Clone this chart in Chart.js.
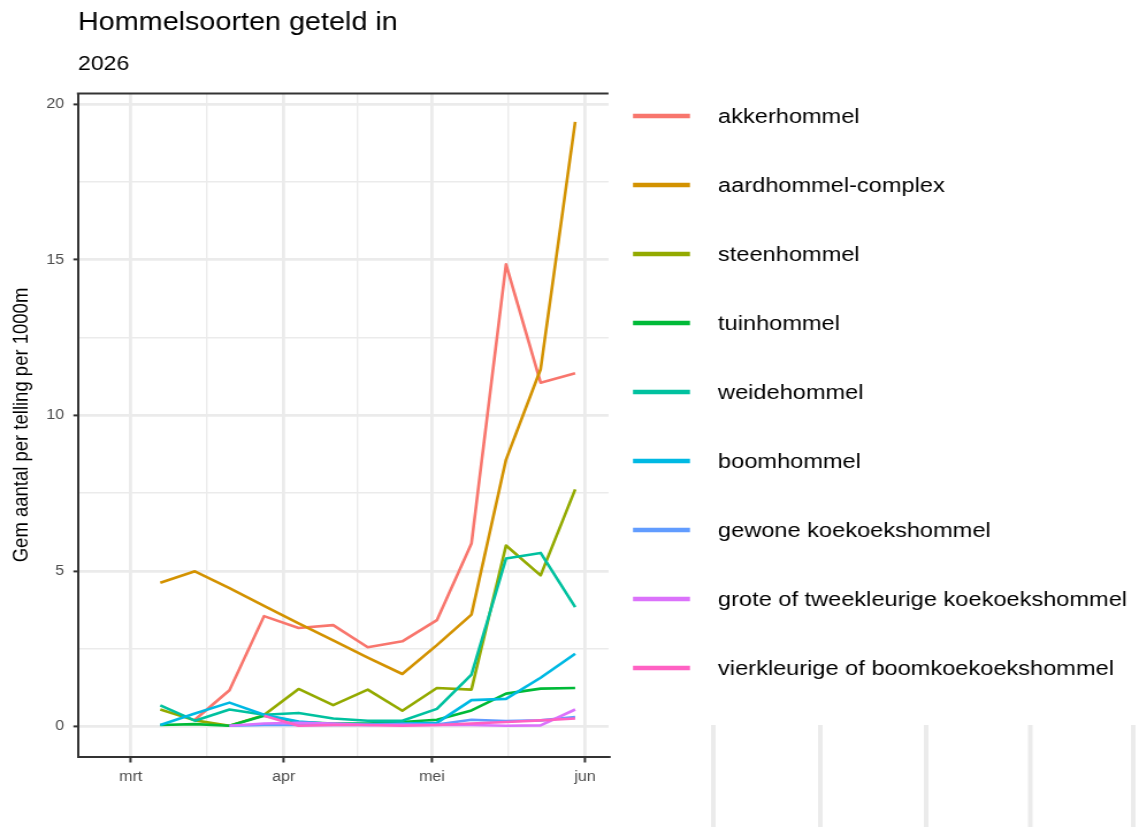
<!DOCTYPE html>
<html>
<head>
<meta charset="utf-8">
<script src="https://cdn.jsdelivr.net/npm/chart.js@4/dist/chart.umd.min.js"></script>
<style>
html, body { margin: 0; padding: 0; background: #ffffff; overflow: hidden; }
#wrap { position: absolute; left: 0; top: 0; width: 990px; height: 827px;
        transform: scaleX(1.1505); transform-origin: 0 0; }
</style>
</head>
<body>
<div id="wrap"><canvas id="c"></canvas></div>
<script>
// ---------- data ----------
const dates = ['2026-03-07','2026-03-14','2026-03-21','2026-03-28','2026-04-04','2026-04-11','2026-04-18',
               '2026-04-25','2026-05-02','2026-05-09','2026-05-16','2026-05-23','2026-05-30'];

const speciesNames = ['akkerhommel','aardhommel-complex','steenhommel','tuinhommel','weidehommel',
                      'boomhommel','gewone koekoekshommel','grote of tweekleurige koekoekshommel',
                      'vierkleurige of boomkoekoekshommel'];

const akkerhommel   = [null, 0.22, 1.17, 3.55, 3.17, 3.26, 2.55, 2.74, 3.42, 5.88, 14.85, 11.05, 11.35];
const aardhommel    = [4.62, 4.99, 4.45, 3.88, 3.32, 2.77, 2.22, 1.69, 2.62, 3.60, 8.58, 11.48, 19.43];
const steenhommel   = [0.55, 0.20, 0.03, 0.37, 1.21, 0.69, 1.19, 0.51, 1.24, 1.19, 5.82, 4.86, 7.62];
const tuinhommel    = [0.05, 0.08, 0.03, 0.35, 0.15, 0.10, 0.10, 0.15, 0.22, 0.52, 1.06, 1.22, 1.24];
const weidehommel   = [0.68, 0.19, 0.55, 0.38, 0.44, 0.26, 0.19, 0.19, 0.57, 1.67, 5.40, 5.58, 3.84];
const boomhommel    = [0.05, 0.42, 0.77, 0.38, 0.16, 0.08, 0.08, 0.10, 0.12, 0.85, 0.89, 1.57, 2.34];
const gewoneKoekoek = [null, null, 0.03, 0.05, 0.05, 0.05, 0.05, 0.08, 0.07, 0.22, 0.18, 0.20, 0.31];
const groteKoekoek  = [null, null, 0.03, 0.10, 0.12, 0.10, 0.05, 0.05, 0.05, 0.05, 0.03, 0.04, 0.55];
const vierKoekoek   = [null, null, null, 0.35, 0.03, 0.05, 0.05, 0.03, 0.05, 0.10, 0.15, 0.20, 0.26];

const seriesValues = [akkerhommel, aardhommel, steenhommel, tuinhommel, weidehommel,
                      boomhommel, gewoneKoekoek, groteKoekoek, vierKoekoek];

const monthTickDates = ['2026-03-01','2026-04-01','2026-05-01','2026-06-01'];
const monthTickLabels = ['mrt','apr','mei','jun'];
const yMajorTicks = [0, 5, 10, 15, 20];
const yTickLabels = ['0', '5', '10', '15', '20'];
const xLimits = ['2026-02-18T08:00:00Z', '2026-06-05T18:00:00Z'];
const yLimits = [-0.96, 20.34];

const titleText = 'Hommelsoorten geteld in';
const subtitleText = '2026';
const yAxisTitle = 'Gem aantal per telling per 1000m';

// ---------- styling ----------
const colors = ['#F8766D','#D39200','#93AA00','#00BA38','#00C19F','#00B9E3','#619CFF','#DB72FB','#FF61C3'];
const FONT = "'Liberation Sans', Arial, sans-serif";

const dayOf = s => (Date.parse(s) - Date.parse('2026-01-01T00:00:00Z')) / 864e5;
const xMajor = monthTickDates.map(dayOf);
const xMinor = xMajor.slice(1).map((v, i) => (v + xMajor[i]) / 2);
const yMinor = yMajorTicks.slice(1).map((v, i) => (v + yMajorTicks[i]) / 2);
const isXMajor = v => xMajor.some(m => Math.abs(m - v) < 1e-6);
const isYMajor = v => yMajorTicks.some(m => Math.abs(m - v) < 1e-6);

const datasets = speciesNames.map((name, i) => ({
  label: name,
  data: dates.map((d, j) => ({ x: dayOf(d), y: seriesValues[i][j] })),
  borderColor: colors[i],
  backgroundColor: colors[i],
  borderWidth: 2.6,
  pointRadius: 0,
  pointHoverRadius: 0,
  tension: 0,
  spanGaps: false,
  borderJoinStyle: 'round',
  order: speciesNames.length - 1 - i
}));

// decorations: top panel border, side legend, grey strip artefacts
const panelTop = {
  id: 'panelTop',
  afterDraw(chart) {
    const { ctx, chartArea } = chart;
    ctx.save();
    ctx.strokeStyle = '#333333';
    ctx.lineWidth = 2;
    ctx.beginPath();
    ctx.moveTo(chartArea.left - 1, chartArea.top);
    ctx.lineTo(chartArea.right, chartArea.top);
    ctx.stroke();
    ctx.restore();
  }
};

const sideLegend = {
  id: 'sideLegend',
  afterDraw(chart) {
    const { ctx, chartArea } = chart;
    ctx.save();
    chart.data.datasets.forEach((ds, i) => {
      const y = chartArea.top + 22.5 + i * 69;
      ctx.strokeStyle = ds.borderColor;
      ctx.lineWidth = 4.5;
      ctx.lineCap = 'butt';
      ctx.beginPath();
      ctx.moveTo(chartArea.right + 21.3, y);
      ctx.lineTo(chartArea.right + 70.8, y);
      ctx.stroke();
      ctx.fillStyle = '#000000';
      ctx.font = '20.5px ' + FONT;
      ctx.textBaseline = 'middle';
      ctx.textAlign = 'left';
      ctx.fillText(ds.label, chartArea.right + 95.2, y + 1);
    });
    ctx.restore();
  }
};

const greyStrips = {
  id: 'greyStrips',
  beforeDraw(chart) {
    const ctx = chart.ctx;
    ctx.save();
    ctx.fillStyle = '#EBEBEB';
    [618, 711, 803, 893.5, 983].forEach(x => ctx.fillRect(x, 725, 4, 102));
    ctx.restore();
  }
};

new Chart(document.getElementById('c'), {
  type: 'line',
  data: { datasets },
  plugins: [greyStrips, panelTop, sideLegend],
  options: {
    responsive: true,
    maintainAspectRatio: false,
    animation: false,
    layout: { padding: { left: 0, right: 990 - 528.9, top: 0, bottom: 0 } },
    plugins: {
      legend: { display: false },
      tooltip: { enabled: false },
      title: {
        display: true, text: titleText, align: 'start', fullSize: false,
        color: '#000000', font: { family: FONT, size: 25, weight: 'normal' },
        padding: { top: 8.5, bottom: 0 }
      },
      subtitle: {
        display: true, text: subtitleText, align: 'start', fullSize: false,
        color: '#000000', font: { family: FONT, size: 20, weight: 'normal' },
        padding: { top: 13.7, bottom: 17.3 }
      }
    },
    scales: {
      x: {
        type: 'linear',
        min: dayOf(xLimits[0]),
        max: dayOf(xLimits[1]),
        afterBuildTicks: scale => {
          scale.ticks = xMajor.concat(xMinor).sort((a, b) => a - b).map(v => ({ value: v }));
        },
        afterFit: scale => { scale.height = 70.5; },
        ticks: {
          autoSkip: false, maxRotation: 0, padding: 6,
          color: '#4D4D4D', font: { family: FONT, size: 14 },
          callback: v => {
            const k = xMajor.findIndex(m => Math.abs(m - v) < 1e-6);
            return k >= 0 ? monthTickLabels[k] : '';
          }
        },
        grid: {
          color: '#EBEBEB',
          lineWidth: c => (c.tick && isXMajor(c.tick.value)) ? 2.8 : 1.4,
          tickLength: 6,
          tickColor: c => (c.tick && isXMajor(c.tick.value)) ? '#333333' : 'rgba(0,0,0,0)',
          tickWidth: 2
        },
        border: { display: true, color: '#333333', width: 2 }
      },
      y: {
        type: 'linear',
        min: yLimits[0],
        max: yLimits[1],
        afterBuildTicks: scale => {
          scale.ticks = yMajorTicks.concat(yMinor).sort((a, b) => a - b).map(v => ({ value: v }));
        },
        afterFit: scale => { scale.width = 67.8; },
        ticks: {
          padding: 8, color: '#4D4D4D', font: { family: FONT, size: 14 },
          callback: v => {
            const k = yMajorTicks.findIndex(m => Math.abs(m - v) < 1e-6);
            return k >= 0 ? yTickLabels[k] : '';
          }
        },
        grid: {
          color: '#EBEBEB',
          lineWidth: c => (c.tick && isYMajor(c.tick.value)) ? 2.8 : 1.4,
          tickLength: 4,
          tickColor: c => (c.tick && isYMajor(c.tick.value)) ? '#333333' : 'rgba(0,0,0,0)',
          tickWidth: 2
        },
        border: { display: true, color: '#333333', width: 2 },
        title: {
          display: true, text: yAxisTitle, color: '#000000',
          font: { family: FONT, size: 18.5 },
          padding: { top: 8, bottom: 0 }
        }
      }
    }
  }
});
</script>
</body>
</html>
